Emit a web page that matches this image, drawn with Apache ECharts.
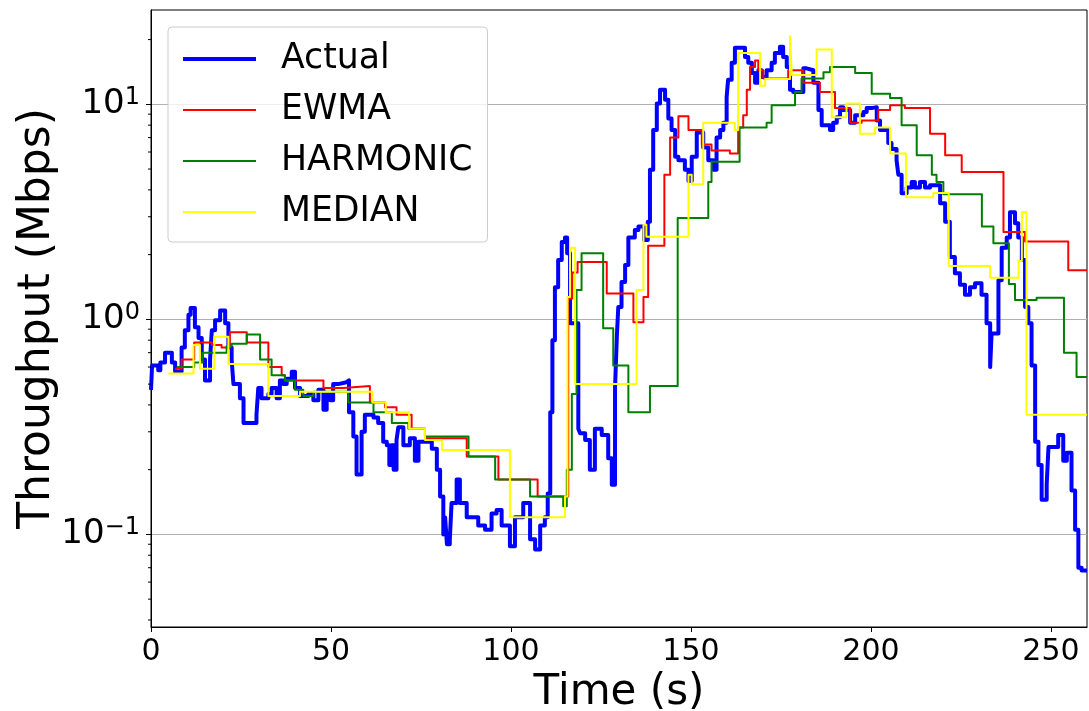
<!DOCTYPE html>
<html>
<head>
<meta charset="utf-8">
<title>Throughput prediction</title>
<script src="https://cdn.jsdelivr.net/npm/echarts@6/dist/echarts.min.js"></script>
<style>
  html, body { margin: 0; padding: 0; background: #fff; }
  #chart { width: 1089px; height: 711px; }
</style>
</head>
<body>
<div id="chart"></div>
<script>
// Throughput traces: [time (s), Mbps]; each value holds until the next sample.
const actual = [
  [0,0.47],[0.3,0.61],[2,0.58],[2.6,0.63],[3.9,0.70],[5.8,0.63],[6.7,0.57],[8.5,0.74],[9.4,0.89],
  [10.4,1.05],[11,1.13],[12.2,0.92],[13.2,0.82],[14.1,0.65],[15,0.52],[16.4,0.65],[16.9,0.89],
  [17.8,0.99],[19.2,1.1],[20.6,0.96],[21.5,0.74],[22.4,0.65],[22.9,0.5],[24.7,0.43],[25.7,0.33],
  [29.3,0.36],[29.8,0.48],[30.7,0.43],[32.6,0.45],[33.5,0.48],[34.9,0.43],[35.8,0.52],[36.7,0.5],
  [37.7,0.53],[39.1,0.57],[40,0.48],[41.4,0.44],[43.7,0.45],[45.1,0.42],[46.5,0.47],[47.9,0.38],
  [48.8,0.45],[49.8,0.42],[50.6,0.5],[52,0.51],[54.3,0.52],[55,0.37],[56.2,0.285],[57.1,0.19],
  [58.5,0.3],[59.4,0.36],[61.8,0.35],[63.1,0.33],[64.5,0.27],[65.5,0.26],[66.2,0.21],[66.8,0.26],
  [67.4,0.2],[68.2,0.275],[68.7,0.315],[70.1,0.26],[71.9,0.28],[73.3,0.22],[74.3,0.27],[78,0.25],
  [79.4,0.2],[80.3,0.15],[81.2,0.1],[81.7,0.12],[82.2,0.09],[83,0.095],[83.5,0.14],[84.9,0.18],
  [85.8,0.14],[87.7,0.12],[90.9,0.11],[92.8,0.105],[94.6,0.125],[96,0.13],[97.4,0.11],[99.7,0.088],
  [101.1,0.12],[103.4,0.14],[105.3,0.095],[106.7,0.085],[108.1,0.11],[109.4,0.12],[110.2,0.155],
  [110.9,0.37],[111.5,0.8],[112.2,1.41],[113.1,1.89],[114.1,2.29],[115,2.4],[115.6,2.03],[116.4,0.96],
  [118.7,0.31],[119.2,0.295],[120.6,0.275],[121.9,0.2],[123.3,0.31],[125.2,0.29],[127,0.226],
  [128,0.17],[128.9,0.48],[129.4,0.83],[129.8,1.14],[130.7,1.49],[131.7,1.79],[132.6,2.4],
  [134.4,2.6],[135.4,2.7],[137,2.34],[138,2.84],[138.6,4.96],[139.5,7.6],[140.5,10.1],[141.4,11.7],
  [142.8,10.5],[143.7,8.6],[144.6,7.6],[145.6,5.7],[146.5,5.5],[148.3,4.96],[149.3,4.4],[150.2,5.7],
  [151.6,7.4],[153.4,6.3],[154.8,5.5],[156.2,4.96],[157.1,7],[158.1,7.6],[159,8.2],[159.9,10.8],
  [160.3,13],[161.3,15.6],[162.2,18.3],[165,16.6],[165.9,15.6],[166.9,14],[167.8,12.6],[168.7,14.4],
  [169.6,13.4],[171,14.4],[172.4,15.6],[173.3,17.3],[174.7,18.5],[175.6,16.6],[176.6,14.9],
  [177.5,11.7],[178.4,11.4],[181.2,14.7],[182.1,14.4],[184,12.6],[185.4,9.4],[186.3,8],[188.6,7.6],
  [189.5,8.2],[190.5,8.7],[191.4,9.7],[192.3,9.4],[194.2,8.2],[195.6,8.9],[197.9,9.2],[198.8,9.6],
  [200.2,9.7],[201.6,8.4],[202.5,7.6],[204.8,6.6],[205.7,6.2],[207.1,5.5],[207.6,4.7],[208.5,3.86],
  [209.9,4.1],[211.3,4.35],[212.2,4.1],[213.6,4.35],[215,4.1],[216.4,4.2],[219.2,3.47],[220.6,2.84],
  [221.9,1.95],[223.3,1.64],[224.7,1.45],[226.1,1.3],[227.5,1.41],[228.9,1.47],[230.7,1.3],
  [232.1,0.96],[233.1,0.6],[233.5,0.86],[235.4,1.52],[236.3,2.15],[237.7,2.4],[238.6,3.15],[240,2.8],
  [240.9,2.4],[241.9,1.89],[242.8,1.14],[243.7,0.96],[244.6,0.61],[245.6,0.27],[246.5,0.21],
  [247.4,0.145],[248.8,0.17],[249.3,0.255],[252,0.29],[253.4,0.22],[254.4,0.24],[255.7,0.16],
  [256.7,0.105],[257.6,0.07],[258.5,0.068],[260,0.068]
];

const ewma = [
  [6.7,0.59],[8.5,0.65],[12,0.78],[16.9,0.76],[19.6,0.74],[21.9,0.87],[26.6,0.78],[32.6,0.6],
  [36.3,0.55],[37.2,0.52],[47.9,0.48],[53.4,0.49],[60.8,0.41],[65,0.39],[68.2,0.36],[72.4,0.31],
  [76.1,0.28],[87.7,0.23],[96.5,0.18],[107.4,0.15],[115.9,1.25],[117,1.65],[118.5,1.85],[126.6,1.32],
  [134,0.97],[136.8,1.27],[138.1,2.2],[142.6,4.7],[144.2,7],[146.5,8.8],[149.3,7.6],[153,6.5],
  [155.7,6.1],[160.8,5.9],[163.1,7.8],[164.5,8.9],[165.5,11.7],[166.4,14.9],[167.8,16],[168.7,14.4],
  [170.1,13.2],[177,14.4],[181.2,12.6],[185.8,11.4],[190,9.6],[194.2,8.2],[197.4,8.4],[202,9.4],
  [205.3,9.9],[209.4,9.6],[216.4,7.3],[220.6,5.8],[225.2,4.85],[236.8,2.55],[242.8,2.3],
  [254.8,1.69],[260,1.69]
];

const harmonic = [
  [7.1,0.6],[12,0.63],[14.3,0.7],[21,0.75],[22.4,0.77],[26.6,0.85],[30.3,0.65],[33.5,0.55],
  [37.2,0.52],[40,0.47],[42.3,0.44],[45.1,0.46],[54.8,0.41],[61.8,0.37],[66.9,0.33],[71.5,0.31],
  [76.1,0.285],[88.2,0.23],[95.6,0.18],[105.3,0.15],[114.5,0.135],[115.5,0.2],[116.9,0.45],
  [118.2,1.37],[119.6,2.03],[125.6,0.91],[128.4,0.61],[132.6,0.37],[138.6,0.49],[146.3,2.96],
  [154.8,4.35],[155.7,5.4],[163.5,7.8],[171,8.2],[172.4,9.9],[178.9,11.4],[180.7,13.2],[186.8,14.1],
  [188.6,14.9],[195.6,14],[200.2,11.2],[205.3,10.7],[208.5,8],[212.7,5.8],[216.9,4.7],[218.2,4.35],
  [220.1,3.82],[230.8,2.7],[234,2.26],[238.3,1.46],[240,1.23],[246,1.26],[253.6,0.7],[257.1,0.54],
  [260,0.54]
];

const median = [
  [4.8,0.56],[11.8,0.76],[13.6,0.59],[17.6,0.83],[21.5,0.62],[32.6,0.44],[41.4,0.46],[61.5,0.41],
  [65.2,0.37],[71.7,0.31],[76.1,0.275],[80.8,0.247],[99.7,0.12],[115,0.15],[115.7,1.27],[116.4,2.15],
  [117.8,0.5],[134.9,1.37],[136.8,2.75],[137.6,2.42],[149.3,4.7],[150.2,4.25],[153.4,8.2],
  [162.2,7.6],[163.1,17.3],[169.2,12.2],[170.6,13.1],[177.5,20.7],[178,13.7],[184.9,18],[189.1,8.7],
  [193.2,10.1],[196.9,7.3],[201.1,7.8],[205.3,5.9],[209.7,3.7],[217.3,3.87],[221.6,1.77],
  [233.1,1.56],[241,1.87],[241.9,3.15],[243.2,0.36],[260,0.36]
];

const seriesNames = ['Actual', 'EWMA', 'HARMONIC', 'MEDIAN'];
const xTicks = [0, 50, 100, 150, 200, 250];
const yMajorTicks = [0.1, 1, 10];
const yMinorTicks = [0.04, 0.05, 0.06, 0.07, 0.08, 0.09,
  0.2, 0.3, 0.4, 0.5, 0.6, 0.7, 0.8, 0.9,
  2, 3, 4, 5, 6, 7, 8, 9, 20];

const FONT = 'DejaVu Sans';
const chart = echarts.init(document.getElementById('chart'), null, { renderer: 'canvas' });

// 'end': the line keeps each sample's value until the next sample's time
function stepLine(name, data, color, width) {
  return {
    name, type: 'line', data, step: 'end',
    symbol: 'none', showSymbol: false, silent: true,
    lineStyle: { color, width, join: 'round', cap: 'butt' },
    itemStyle: { color },
    z: 2
  };
}

chart.setOption({
  animation: false,
  backgroundColor: '#ffffff',
  grid: {
    left: 151, right: 2, top: 10, bottom: 84,
    show: true, borderColor: '#000', borderWidth: 1, backgroundColor: 'transparent',
    outerBoundsMode: 'none'
  },
  legend: {
    data: [
      { name: seriesNames[0], lineStyle: { width: 4 } },
      { name: seriesNames[1], lineStyle: { width: 2 } },
      { name: seriesNames[2], lineStyle: { width: 2 } },
      { name: seriesNames[3], lineStyle: { width: 2 } }
    ],
    orient: 'vertical',
    left: 168, top: 27,
    padding: [12, 15, 10, 13],
    itemGap: 11,
    itemWidth: 73, itemHeight: 20,
    backgroundColor: 'rgba(255,255,255,0.8)',
    borderColor: '#cccccc', borderWidth: 1, borderRadius: 4,
    selectedMode: false,
    itemStyle: { opacity: 0 },
    textStyle: { fontFamily: FONT, fontSize: 34.7, color: '#000', lineHeight: 40, padding: [0, 0, 0, 20] }
  },
  xAxis: {
    type: 'value', min: 0, max: 260,
    name: 'Time (s)', nameLocation: 'middle', nameGap: 19,
    nameTextStyle: { fontFamily: FONT, fontSize: 42, color: '#000' },
    axisLine: { show: true, lineStyle: { color: '#000', width: 1 } },
    axisTick: { show: true, length: 5, inside: false, customValues: xTicks, lineStyle: { color: '#000', width: 1 } },
    axisLabel: { customValues: xTicks, fontFamily: FONT, fontSize: 30, color: '#000', margin: 10 },
    splitLine: { show: false }
  },
  yAxis: {
    type: 'log', logBase: 10, min: 0.0371, max: 27.45,
    name: 'Throughput (Mbps)', nameLocation: 'middle', nameGap: 91, nameMoveOverlap: false,
    nameTextStyle: { fontFamily: FONT, fontSize: 44, color: '#000' },
    axisLine: { show: true, lineStyle: { color: '#000', width: 1 } },
    axisTick: { show: true, length: 5, inside: false, customValues: yMajorTicks, lineStyle: { color: '#000', width: 1 } },
    axisLabel: {
      customValues: yMajorTicks,
      margin: 11,
      formatter: function (v) {
        const e = Math.round(Math.log10(v));
        const s = e < 0 ? '\u2212' + Math.abs(e) : String(e);
        return '{b|10}{s|' + s + '}';
      },
      rich: {
        b: { fontFamily: FONT, fontSize: 34, color: '#000', lineHeight: 38 },
        s: { fontFamily: FONT, fontSize: 24, color: '#000', lineHeight: 16, verticalAlign: 'top' }
      }
    },
    splitLine: { show: true, lineStyle: { color: '#b0b0b0', width: 1 } }
  },
  series: [
    stepLine(seriesNames[0], actual, '#0000ff', 4),
    stepLine(seriesNames[1], ewma, '#ff0000', 2),
    stepLine(seriesNames[2], harmonic, '#008000', 2),
    stepLine(seriesNames[3], median, '#ffff00', 2),
    {
      name: 'minor ticks', type: 'custom', coordinateSystem: 'cartesian2d',
      clip: false, silent: true, z: 3,
      data: yMinorTicks.map(v => [0, v]),
      renderItem: function (params, api) {
        const p = api.coord([api.value(0), api.value(1)]);
        return {
          type: 'line',
          shape: { x1: p[0] - 3, y1: p[1], x2: p[0], y2: p[1] },
          style: { stroke: '#000', lineWidth: 1 }
        };
      }
    }
  ]
});
</script>
</body>
</html>
